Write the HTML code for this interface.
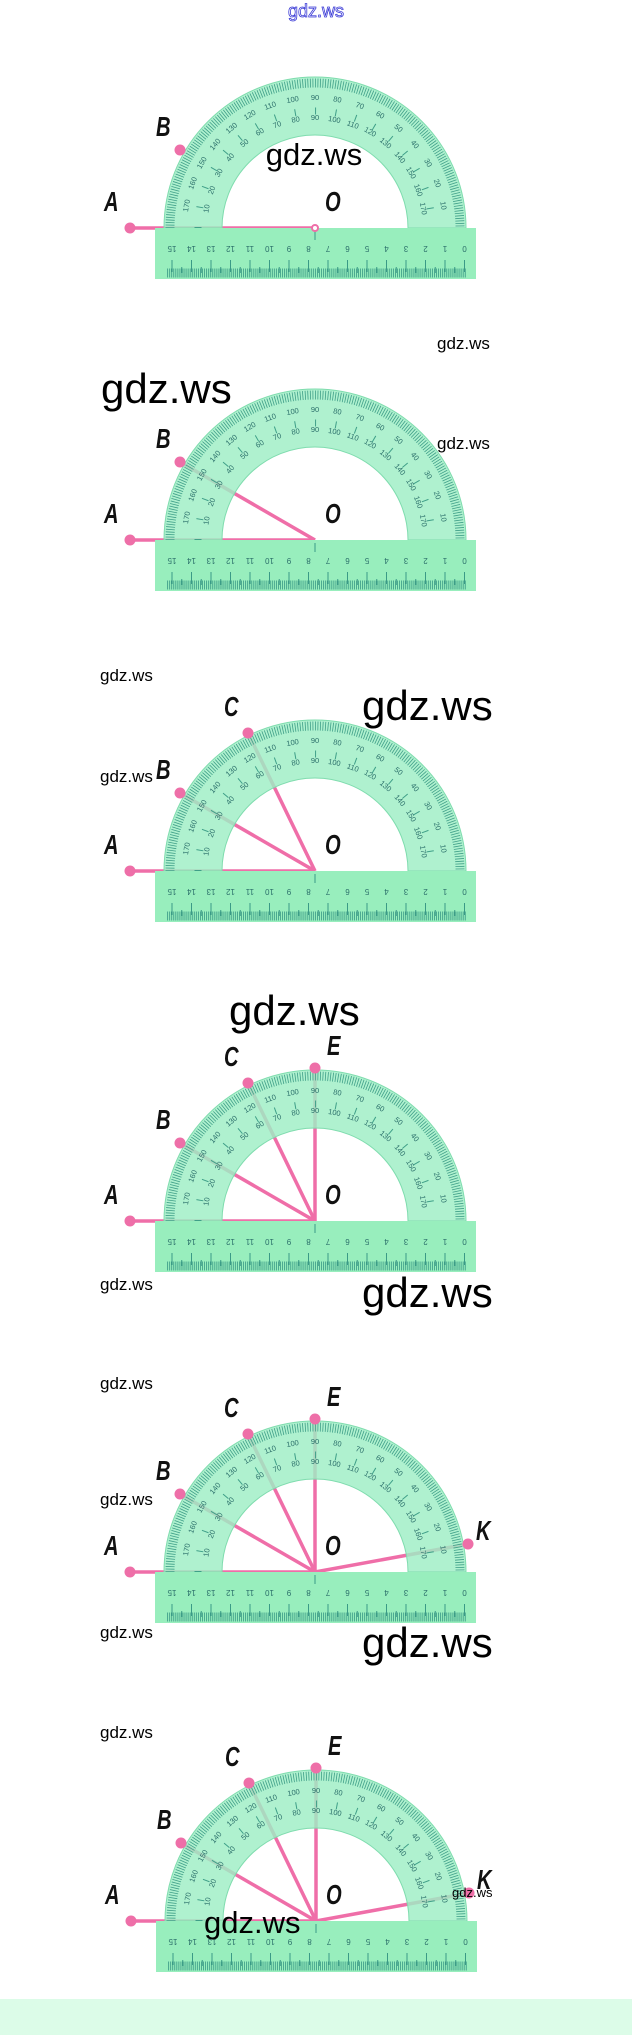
<!DOCTYPE html>
<html><head><meta charset="utf-8"><style>
html,body{margin:0;padding:0;background:#fff}
svg{display:block}
.w{font-family:"Liberation Sans",sans-serif;fill:#000}
.lb{font-family:"Liberation Sans",sans-serif;font-style:italic;font-weight:bold;font-size:28px;fill:#111}
.dn{font-family:"Liberation Sans",sans-serif;font-size:7.5px;fill:#2b6f6a;text-anchor:middle}
.rn{font-family:"Liberation Sans",sans-serif;font-size:8px;fill:#2b6f6a;text-anchor:middle}
</style></head><body>
<svg width="632" height="2035" viewBox="0 0 632 2035" xmlns="http://www.w3.org/2000/svg">
<defs>
<g id="prot">
  <path d="M-151,0 A151,151 0 0 1 151,0 L93,0 A93,93 0 0 0 -93,0 Z" fill="#9eeec4" fill-opacity="0.82" stroke="#7fdcae" stroke-width="1"/>
  <path d="M-145,0 A145,145 0 0 1 145,0" fill="none" stroke="#3f9f88" stroke-width="9" stroke-dasharray="0.8 1.73"/>
  <path d="M-117,0 A117,117 0 0 1 117,0" fill="none" stroke="#3f9f88" stroke-width="7" stroke-dasharray="1 19.42"/>
  <g class="dn">
    <text transform="translate(126,-22) rotate(80)">10</text>
    <text transform="translate(120,-44) rotate(70)">20</text>
    <text transform="translate(111,-64) rotate(60)">30</text>
    <text transform="translate(98,-82) rotate(50)">40</text>
    <text transform="translate(82,-98) rotate(40)">50</text>
    <text transform="translate(64,-111) rotate(30)">60</text>
    <text transform="translate(44,-120) rotate(20)">70</text>
    <text transform="translate(22,-126) rotate(10)">80</text>
    <text transform="translate(0,-128)">90</text>
    <text transform="translate(-22,-126) rotate(-10)">100</text>
    <text transform="translate(-44,-120) rotate(-20)">110</text>
    <text transform="translate(-64,-111) rotate(-30)">120</text>
    <text transform="translate(-82,-98) rotate(-40)">130</text>
    <text transform="translate(-98,-82) rotate(-50)">140</text>
    <text transform="translate(-111,-64) rotate(-60)">150</text>
    <text transform="translate(-120,-44) rotate(-70)">160</text>
    <text transform="translate(-126,-22) rotate(-80)">170</text>
    <text transform="translate(106,-19) rotate(80)">170</text>
    <text transform="translate(101,-37) rotate(70)">160</text>
    <text transform="translate(94,-54) rotate(60)">150</text>
    <text transform="translate(83,-69) rotate(50)">140</text>
    <text transform="translate(69,-83) rotate(40)">130</text>
    <text transform="translate(54,-94) rotate(30)">120</text>
    <text transform="translate(37,-101) rotate(20)">110</text>
    <text transform="translate(19,-106) rotate(10)">100</text>
    <text transform="translate(0,-108)">90</text>
    <text transform="translate(-19,-106) rotate(-10)">80</text>
    <text transform="translate(-37,-101) rotate(-20)">70</text>
    <text transform="translate(-54,-94) rotate(-30)">60</text>
    <text transform="translate(-69,-83) rotate(-40)">50</text>
    <text transform="translate(-83,-69) rotate(-50)">40</text>
    <text transform="translate(-94,-54) rotate(-60)">30</text>
    <text transform="translate(-101,-37) rotate(-70)">20</text>
    <text transform="translate(-106,-19) rotate(-80)">10</text>
  </g>
  <rect x="-160" y="0" width="321" height="51" fill="#98eebd"/>
  <line x1="-148" y1="45" x2="151" y2="45" stroke="#3a9a86" stroke-width="9" stroke-dasharray="0.8 1.15"/>
  <line x1="-143.5" y1="38" x2="151" y2="38" stroke="#3a9a86" stroke-width="12" stroke-dasharray="1 18.5"/>
  <line x1="-133.75" y1="42" x2="151" y2="42" stroke="#3a9a86" stroke-width="6" stroke-dasharray="1 18.5"/>
  <line x1="0" y1="3" x2="0" y2="12" stroke="#3a9a86" stroke-width="1"/>
  <g class="rn">
    <text transform="translate(-143,18) rotate(180)">15</text>
    <text transform="translate(-123.5,18) rotate(180)">14</text>
    <text transform="translate(-104,18) rotate(180)">13</text>
    <text transform="translate(-84.5,18) rotate(180)">12</text>
    <text transform="translate(-65,18) rotate(180)">11</text>
    <text transform="translate(-45.5,18) rotate(180)">10</text>
    <text transform="translate(-26,18) rotate(180)">9</text>
    <text transform="translate(-6.5,18) rotate(180)">8</text>
    <text transform="translate(13,18) rotate(180)">7</text>
    <text transform="translate(32.5,18) rotate(180)">6</text>
    <text transform="translate(52,18) rotate(180)">5</text>
    <text transform="translate(71.5,18) rotate(180)">4</text>
    <text transform="translate(91,18) rotate(180)">3</text>
    <text transform="translate(110.5,18) rotate(180)">2</text>
    <text transform="translate(130,18) rotate(180)">1</text>
    <text transform="translate(149.5,18) rotate(180)">0</text>
  </g>
</g>
<g id="la"><line x1="0" y1="0" x2="-185" y2="0" stroke="#ef6ea8" stroke-width="3.5"/></g>
<g id="lb"><line x1="0" y1="0" x2="-135" y2="-78" stroke="#ef6ea8" stroke-width="3.5"/></g>
<g id="lc"><line x1="0" y1="0" x2="-67" y2="-138" stroke="#ef6ea8" stroke-width="3.5"/></g>
<g id="le"><line x1="0" y1="0" x2="0" y2="-153" stroke="#ef6ea8" stroke-width="3.5"/></g>
<g id="lk"><line x1="0" y1="0" x2="153" y2="-28" stroke="#ef6ea8" stroke-width="3.5"/></g>
<circle id="dot" r="5.5" fill="#ee6fa8"/>
</defs>

<text x="316" y="17" text-anchor="middle" font-family="Liberation Sans,sans-serif" font-size="18" fill="#fff" stroke="#3b3bd6" stroke-width="0.8">gdz.ws</text>

<!-- P1 -->
<g transform="translate(315,228)">
  <use href="#la"/>
  <use href="#prot"/>
  <use href="#dot" x="-185"/><use href="#dot" x="-135" y="-78"/>
  <circle r="3" fill="#fff" stroke="#ee6fa8" stroke-width="2"/>
  <text class="lb" transform="translate(-211,-17) scale(0.72,1)">A</text><text class="lb" transform="translate(-159,-92) scale(0.72,1)">B</text><text class="lb" transform="translate(10,-17) scale(0.72,1)">O</text>
</g>
<text class="w" x="314" y="165" text-anchor="middle" font-size="31">gdz.ws</text>

<!-- P2 -->
<text class="w" x="437" y="349" font-size="17">gdz.ws</text>
<text class="w" x="101" y="403" font-size="42">gdz.ws</text>
<g transform="translate(315,540)">
  <use href="#la"/><use href="#lb"/>
  <use href="#prot"/>
  <use href="#dot" x="-185"/><use href="#dot" x="-135" y="-78"/>
  <text class="lb" transform="translate(-211,-17) scale(0.72,1)">A</text><text class="lb" transform="translate(-159,-92) scale(0.72,1)">B</text><text class="lb" transform="translate(10,-17) scale(0.72,1)">O</text>
</g>
<text class="w" x="437" y="449" font-size="17">gdz.ws</text>

<!-- P3 -->
<text class="w" x="100" y="681" font-size="17">gdz.ws</text>
<text class="w" x="362" y="720" font-size="42">gdz.ws</text>
<g transform="translate(315,871)">
  <use href="#la"/><use href="#lb"/><use href="#lc"/>
  <use href="#prot"/>
  <use href="#dot" x="-185"/><use href="#dot" x="-135" y="-78"/><use href="#dot" x="-67" y="-138"/>
  <text class="lb" transform="translate(-211,-17) scale(0.72,1)">A</text><text class="lb" transform="translate(-159,-92) scale(0.72,1)">B</text><text class="lb" transform="translate(-91,-155) scale(0.72,1)">C</text><text class="lb" transform="translate(10,-17) scale(0.72,1)">O</text>
</g>
<text class="w" x="100" y="782" font-size="17">gdz.ws</text>

<!-- P4 -->
<text class="w" x="229" y="1025" font-size="42">gdz.ws</text>
<g transform="translate(315,1221)">
  <use href="#la"/><use href="#lb"/><use href="#lc"/><use href="#le"/>
  <use href="#prot"/>
  <use href="#dot" x="-185"/><use href="#dot" x="-135" y="-78"/><use href="#dot" x="-67" y="-138"/><use href="#dot" y="-153"/>
  <text class="lb" transform="translate(-211,-17) scale(0.72,1)">A</text><text class="lb" transform="translate(-159,-92) scale(0.72,1)">B</text><text class="lb" transform="translate(-91,-155) scale(0.72,1)">C</text><text class="lb" transform="translate(12,-166) scale(0.72,1)">E</text><text class="lb" transform="translate(10,-17) scale(0.72,1)">O</text>
</g>
<text class="w" x="100" y="1290" font-size="17">gdz.ws</text>
<text class="w" x="362" y="1307" font-size="42">gdz.ws</text>

<!-- P5 -->
<text class="w" x="100" y="1389" font-size="17">gdz.ws</text>
<g transform="translate(315,1572)">
  <use href="#la"/><use href="#lb"/><use href="#lc"/><use href="#le"/><use href="#lk"/>
  <use href="#prot"/>
  <use href="#dot" x="-185"/><use href="#dot" x="-135" y="-78"/><use href="#dot" x="-67" y="-138"/><use href="#dot" y="-153"/><use href="#dot" x="153" y="-28"/>
  <text class="lb" transform="translate(-211,-17) scale(0.72,1)">A</text><text class="lb" transform="translate(-159,-92) scale(0.72,1)">B</text><text class="lb" transform="translate(-91,-155) scale(0.72,1)">C</text><text class="lb" transform="translate(12,-166) scale(0.72,1)">E</text><text class="lb" transform="translate(161,-32) scale(0.72,1)">K</text><text class="lb" transform="translate(10,-17) scale(0.72,1)">O</text>
</g>
<text class="w" x="100" y="1505" font-size="17">gdz.ws</text>
<text class="w" x="100" y="1638" font-size="17">gdz.ws</text>
<text class="w" x="362" y="1657" font-size="42">gdz.ws</text>

<!-- P6 -->
<text class="w" x="100" y="1738" font-size="17">gdz.ws</text>
<g transform="translate(316,1921)">
  <use href="#la"/><use href="#lb"/><use href="#lc"/><use href="#le"/><use href="#lk"/>
  <use href="#prot"/>
  <use href="#dot" x="-185"/><use href="#dot" x="-135" y="-78"/><use href="#dot" x="-67" y="-138"/><use href="#dot" y="-153"/><use href="#dot" x="153" y="-28"/>
  <text class="lb" transform="translate(-211,-17) scale(0.72,1)">A</text><text class="lb" transform="translate(-159,-92) scale(0.72,1)">B</text><text class="lb" transform="translate(-91,-155) scale(0.72,1)">C</text><text class="lb" transform="translate(12,-166) scale(0.72,1)">E</text><text class="lb" transform="translate(161,-32) scale(0.72,1)">K</text><text class="lb" transform="translate(10,-17) scale(0.72,1)">O</text>
</g>
<text class="w" x="452" y="1897" font-size="13">gdz.ws</text>
<text class="w" x="204" y="1933" font-size="31">gdz.ws</text>

<rect x="0" y="1999" width="632" height="36" fill="#dcfce8"/>
</svg>
</body></html>
